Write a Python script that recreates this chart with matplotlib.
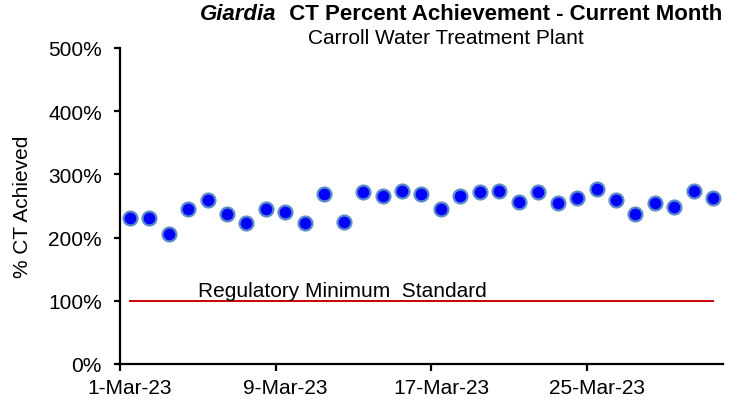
import matplotlib
matplotlib.use("Agg")
import matplotlib.pyplot as plt
import numpy as np

plt.rcParams['font.family'] = ['Liberation Sans', 'DejaVu Sans']

day_of_month = list(range(1, 32))
pct_ct = [230.6, 230.6, 205.8, 245.3, 259.5, 236.9, 223.2, 245.3, 240.1, 223.2,
          268.5, 225.2, 271.6, 265.8, 274.1, 268.5, 245.7, 265.8, 271.6, 274.1,
          256.8, 271.6, 254.3, 262.6, 277.3, 259.5, 236.9, 254.3, 248.4, 274.1,
          262.6]
reg_min = [100.0] * len(day_of_month)
tick_days = [1, 9, 17, 25]
tick_labels = ["1-Mar-23", "9-Mar-23", "17-Mar-23", "25-Mar-23"]
y_ticks = [0, 100, 200, 300, 400, 500]

W, H = 739, 402
fig = plt.figure(figsize=(W / 100, H / 100), dpi=100)
ax_left, ax_right, ax_top, ax_bot = 120, 723, 49, 365
ax = fig.add_axes([ax_left / W, 1 - ax_bot / H, (ax_right - ax_left) / W, (ax_bot - ax_top) / H])

# each day occupies one unit; marks sit in the middle of their day
x = np.array(day_of_month) - 1 + 0.5
ax.plot(x, reg_min, color='#CC0000', lw=1.4, zorder=2)
ax.plot(x, pct_ct, linestyle='none', marker='o', markersize=10,
        markerfacecolor='#0000FF', markeredgecolor='#5B8BC9', markeredgewidth=1.6, zorder=3)

ax.text(4.0, 102, "Regulatory Minimum  Standard", fontsize=15, ha='left', va='bottom')

ax.set_xlim(0, len(day_of_month))
ax.set_ylim(0, 500)
ax.set_xticks([d - 1 for d in tick_days])
ax.set_xticklabels([])
ax.set_xticks([d - 1 + 0.5 for d in tick_days], minor=True)
ax.set_xticklabels(tick_labels, minor=True, fontsize=15)
ax.tick_params(axis='x', which='minor', length=0, pad=10)
ax.set_yticks(y_ticks)
ax.set_yticklabels([f"{v}%" for v in y_ticks], fontsize=15)
for s in ['top', 'right']:
    ax.spines[s].set_visible(False)
for s in ['left', 'bottom']:
    ax.spines[s].set_linewidth(1.6)
    ax.spines[s].set_color('black')
ax.tick_params(axis='y', direction='out', length=4, width=1.6, pad=9)
ax.tick_params(axis='x', which='major', direction='out', length=5, width=1.6)
ax.set_ylabel("% CT Achieved", fontsize=15, labelpad=12)

# Title composed of an italic-bold part and a bold part, right edge at x=722 px
fig.canvas.draw()
r = fig.canvas.get_renderer()
title_y = 1 - 14 / H
p1 = fig.text(0, title_y, "Giardia", fontsize=16, fontweight='bold', fontstyle='italic', va='center')
p2 = fig.text(0, title_y, "  CT Percent Achievement - Current Month", fontsize=16, fontweight='bold', va='center')
w1 = p1.get_window_extent(r).width
w2 = p2.get_window_extent(r).width
x0 = 722 - (w1 + w2)
p1.set_x(x0 / W)
p2.set_x((x0 + w1) / W)

fig.text(446 / W, 1 - 38 / H, "Carroll Water Treatment Plant", fontsize=15, ha='center', va='center')

fig.savefig("out.png", dpi=100)
